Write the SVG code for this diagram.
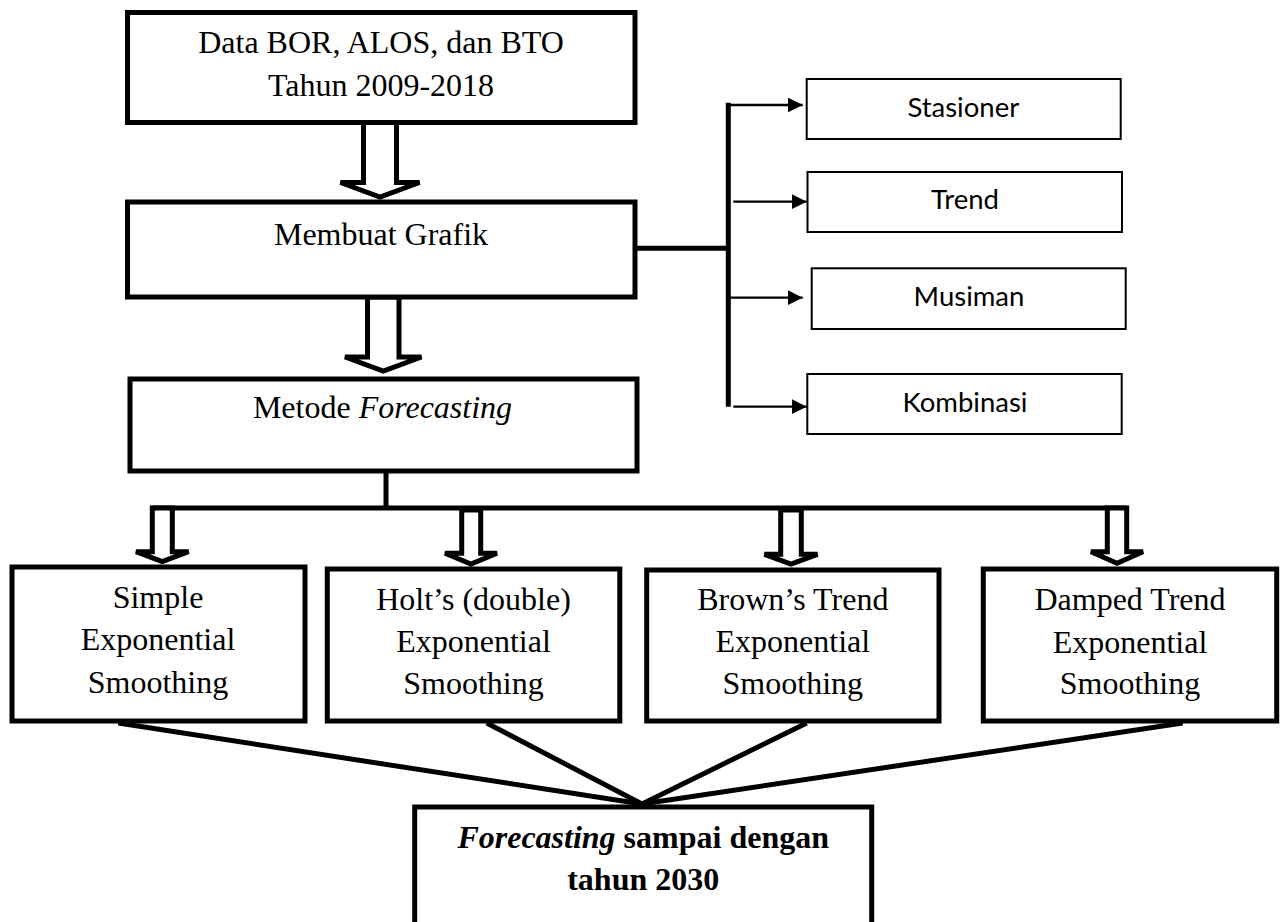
<svg xmlns="http://www.w3.org/2000/svg" width="1282" height="922" viewBox="0 0 1282 922">
<defs>
<style>
.box{fill:#fff;stroke:#000;stroke-width:5}
.thin{fill:#fff;stroke:#000;stroke-width:2}
.ser{font-family:"Liberation Serif","Times New Roman",serif;font-size:32px;fill:#000;text-anchor:middle}
.san{font-family:Lato,"Open Sans","Noto Sans",sans-serif;font-size:27.5px;fill:#000;text-anchor:middle}
.blk{fill:#fff;stroke:#000;stroke-width:5;stroke-linejoin:miter}
.ln{fill:none;stroke:#000;stroke-width:5}
.tl{fill:none;stroke:#000;stroke-width:2.3;marker-end:url(#ah)}
</style>
<marker id="ah" markerUnits="userSpaceOnUse" markerWidth="16" markerHeight="16" refX="15" refY="7.5" orient="auto">
<path d="M0,0 L15,7.5 L0,15 z" fill="#000"/>
</marker>
</defs>
<rect width="1282" height="922" fill="#fff"/>

<g id="connectors">
<line class="ln" x1="636" y1="248.3" x2="728.3" y2="248.3"/>
<line class="ln" x1="728.3" y1="102.7" x2="728.3" y2="406.7"/>
<line class="tl" x1="728" y1="105" x2="802.7" y2="105"/>
<line class="tl" x1="733.3" y1="201.7" x2="806.7" y2="201.7"/>
<line class="tl" x1="728" y1="297.7" x2="802.7" y2="297.7"/>
<line class="tl" x1="733.3" y1="406.7" x2="806.7" y2="406.7"/>
<polygon class="blk" points="363.5,122.5 363.5,182.5 340.5,182.5 380,197 419.5,182.5 396.5,182.5 396.5,122.5"/>
<polygon class="blk" points="367.5,297 367.5,357 345,357 383.3,371 421.5,357 399,357 399,297"/>
<line class="ln" x1="386" y1="471" x2="386" y2="508"/>
<line class="ln" x1="152.3" y1="508" x2="1126.7" y2="508"/>
<polygon class="blk" points="152.3,508 152.3,551.7 136,551.7 162.3,561.6 188.6,551.7 172.3,551.7 172.3,508"/>
<polygon class="blk" points="461.7,510 461.7,553.3 445,553.3 471,564 497,553.3 480.7,553.3 480.7,510"/>
<polygon class="blk" points="780.7,510 780.7,554.3 764.5,554.3 791,564 817.5,554.3 801.3,554.3 801.3,510"/>
<polygon class="blk" points="1107.3,508 1107.3,551.7 1091,551.7 1117,563.3 1143,551.7 1126.7,551.7 1126.7,508"/>
<line class="ln" x1="118.3" y1="723" x2="642" y2="804"/>
<line class="ln" x1="486.7" y1="723" x2="642" y2="804"/>
<line class="ln" x1="806.7" y1="723" x2="642" y2="804"/>
<line class="ln" x1="1182.7" y1="723" x2="642" y2="804"/>
</g>

<g id="n-data">
<rect class="box" x="127.5" y="12.5" width="507.5" height="110"/>
<text class="ser" x="381" y="53.3">Data BOR, ALOS, dan BTO</text>
<text class="ser" x="381" y="95.7">Tahun 2009-2018</text>
</g>
<g id="n-grafik">
<rect class="box" x="127.5" y="202" width="507.5" height="95"/>
<text class="ser" x="381" y="245">Membuat Grafik</text>
</g>
<g id="n-metode">
<rect class="box" x="130" y="379" width="507" height="92"/>
<text class="ser" x="382.5" y="418">Metode <tspan font-style="italic">Forecasting</tspan></text>
</g>

<g id="n-stasioner">
<rect class="thin" x="806.7" y="79" width="314" height="60"/>
<text class="san" x="963.3" y="116.7">Stasioner</text>
</g>
<g id="n-trend">
<rect class="thin" x="807.5" y="172" width="314.5" height="60"/>
<text class="san" x="965" y="209.3">Trend</text>
</g>
<g id="n-musiman">
<rect class="thin" x="811.7" y="268.3" width="314" height="60.7"/>
<text class="san" x="969" y="306">Musiman</text>
</g>
<g id="n-kombinasi">
<rect class="thin" x="807.3" y="374" width="314.4" height="60"/>
<text class="san" x="965" y="411.7">Kombinasi</text>
</g>

<g id="n-simple">
<rect class="box" x="12" y="567" width="293" height="154"/>
<text class="ser" x="158" y="607.7">Simple</text>
<text class="ser" x="158" y="650">Exponential</text>
<text class="ser" x="158" y="692.7">Smoothing</text>
</g>
<g id="n-holt">
<rect class="box" x="327.3" y="569" width="292.5" height="152"/>
<text class="ser" x="473.5" y="610">Holt’s (double)</text>
<text class="ser" x="473.5" y="651.7">Exponential</text>
<text class="ser" x="473.5" y="694">Smoothing</text>
</g>
<g id="n-brown">
<rect class="box" x="646.7" y="570" width="292.3" height="151"/>
<text class="ser" x="792.8" y="610">Brown’s Trend</text>
<text class="ser" x="792.8" y="651.7">Exponential</text>
<text class="ser" x="792.8" y="694">Smoothing</text>
</g>
<g id="n-damped">
<rect class="box" x="983.3" y="569" width="293.4" height="152"/>
<text class="ser" x="1130" y="610">Damped Trend</text>
<text class="ser" x="1130" y="652.7">Exponential</text>
<text class="ser" x="1130" y="694">Smoothing</text>
</g>

<g id="n-final">
<rect class="box" x="414.7" y="807" width="457" height="200"/>
<text class="ser" x="643.2" y="848.3" font-weight="bold"><tspan font-style="italic">Forecasting</tspan> sampai dengan</text>
<text class="ser" x="643.2" y="890" font-weight="bold">tahun 2030</text>
</g>
</svg>
